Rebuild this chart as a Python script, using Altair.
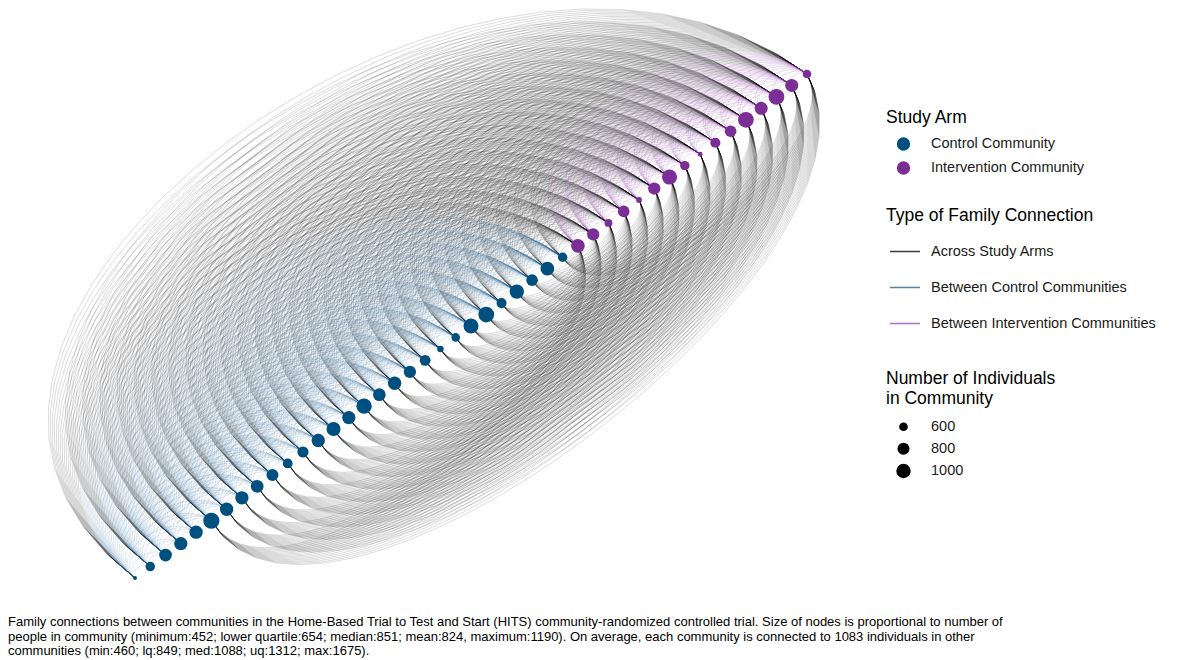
import altair as alt
import pandas as pd

# ---- data ----
control_sizes = [452, 637, 850, 902, 902, 1190, 902, 902, 850, 793, 654, 740, 902, 968, 902,
                 1101, 850, 902, 817, 719, 514, 598, 1068, 1144, 673, 997, 770, 939, 637]
intervention_sizes = [939, 817, 564, 770, 493, 817, 1068, 637, 470, 673, 770, 1144, 876, 1144, 876, 598]

arm_labels = ["Control Community", "Intervention Community"]
arm_colors = ["#00507F", "#7B2F96"]
edge_types = ["Across Study Arms", "Between Control Communities", "Between Intervention Communities"]
edge_colors = ["#000000", "#1B5E8E", "#8E44A8"]
size_legend_values = [600, 800, 1000]
# control communities whose across-arm arcs are also drawn on the lower-right side start here
first_lower_control = 5

caption = [
    "Family connections between communities in the Home-Based Trial to Test and Start (HITS) community-randomized controlled trial. Size of nodes is proportional to number of",
    "people in community (minimum:452; lower quartile:654; median:851; mean:824, maximum:1190). On average, each community is connected to 1083 individuals in other",
    "communities (min:460; lq:849; med:1088; uq:1312; max:1675).",
]

# arc bulge (fraction of the span) for the two sides of the node line
UPPER_BEND = (-0.485, 0.485)
LOWER_BEND = (0.179, -0.414)

# ---- tables ----
n_c = len(control_sizes)
n_i = len(intervention_sizes)
nodes = pd.DataFrame({
    "x": list(range(n_c + n_i)),
    "y": list(range(n_c + n_i)),
    "arm": [arm_labels[0]] * n_c + [arm_labels[1]] * n_i,
    "size": control_sizes + intervention_sizes,
})

rows = []
eid = 0


def add(i, j, etype, bend):
    global eid
    rows.append(dict(eid=eid, src=i, tgt=j, type=etype, hx=bend[0], hy=bend[1]))
    eid += 1


for i in range(n_c):
    for j in range(n_c, n_c + n_i):
        add(i, j, edge_types[0], UPPER_BEND)
for i in range(first_lower_control, n_c):
    for j in range(n_c, n_c + n_i):
        add(i, j, edge_types[0], LOWER_BEND)
for i in range(n_c):
    for j in range(i + 1, n_c):
        add(i, j, edge_types[1], UPPER_BEND)
for i in range(n_c, n_c + n_i):
    for j in range(i + 1, n_c + n_i):
        add(i, j, edge_types[2], UPPER_BEND)
edges = pd.DataFrame(rows)

FONT = "Liberation Sans"
X = alt.X("x:Q", scale=alt.Scale(domain=[-8.315, 47.34], nice=False, zero=False), axis=None)
Y = alt.Y("y:Q", scale=alt.Scale(domain=[-2.62, 49.76], nice=False, zero=False), axis=None)

stroke_enc = alt.Stroke(
    "type:N",
    scale=alt.Scale(domain=edge_types, range=edge_colors),
    legend=alt.Legend(
        title="Type of Family Connection", orient="none", legendX=878, legendY=199,
        direction="vertical", symbolType="stroke", symbolSize=900, symbolStrokeWidth=1.5,
        symbolOpacity=0.75, symbolOffset=3, labelOffset=10, rowPadding=13, titlePadding=11,
        labelLimit=400, titleLimit=400,
    ),
)


def edge_layer(etype, opacity, width):
    return (
        alt.Chart(edges)
        .transform_filter(alt.datum.type == etype)
        .transform_calculate(s="sequence(0, 31)")
        .transform_flatten(["s"])
        .transform_calculate(t="datum.s / 30")
        .transform_calculate(D="datum.tgt - datum.src")
        .transform_calculate(w="3*datum.t*datum.t - 2*datum.t*datum.t*datum.t")
        .transform_calculate(g="3*datum.t*(1-datum.t)*datum.D")
        .transform_calculate(x="datum.src + datum.D*datum.w + datum.hx*datum.g")
        .transform_calculate(y="datum.src + datum.D*datum.w + datum.hy*datum.g")
        .mark_line(opacity=opacity, strokeWidth=width, clip=True)
        .encode(x=X, y=Y, detail="eid:N", order="t:Q", stroke=stroke_enc)
    )


across = edge_layer(edge_types[0], 0.16, 0.9)
within_c = edge_layer(edge_types[1], 0.16, 0.9)
within_i = edge_layer(edge_types[2], 0.22, 0.9)

node_layer = alt.Chart(nodes).mark_circle(opacity=1).encode(
    x=X,
    y=Y,
    fill=alt.Fill(
        "arm:N",
        scale=alt.Scale(domain=arm_labels, range=arm_colors),
        legend=alt.Legend(
            title="Study Arm", orient="none", legendX=878, legendY=101, direction="vertical",
            symbolType="circle", symbolSize=177, symbolOpacity=1, symbolOffset=10,
            labelOffset=20, rowPadding=8, titlePadding=10, labelLimit=400,
        ),
    ),
    size=alt.Size(
        "size:Q",
        scale=alt.Scale(type="sqrt", domain=[452, 1190], range=[16, 260], zero=False),
        legend=alt.Legend(
            title=["Number of Individuals", "in Community"], orient="none", legendX=878,
            legendY=362, direction="vertical", values=size_legend_values, format="d",
            symbolFillColor="black", symbolStrokeColor="black", symbolStrokeWidth=0,
            symbolOpacity=1, symbolOffset=10, labelOffset=20, rowPadding=7, titlePadding=12,
            titleLineHeight=20, labelLimit=400,
        ),
    ),
    order=alt.Order("x:Q"),
)

chart = (
    alt.layer(across, within_c, within_i, node_layer)
    .properties(
        width=850,
        height=600,
        padding=0,
        title=alt.TitleParams(
            caption, orient="bottom", anchor="start", font=FONT, fontSize=13,
            fontWeight="normal", color="black", lineHeight=14.5, offset=8,
        ),
    )
    .configure_view(stroke=None)
    .configure_legend(
        titleFont=FONT, titleFontSize=17.5, titleFontWeight="normal", titleColor="black",
        labelFont=FONT, labelFontSize=14.5, labelColor="#1a1a1a",
    )
)

chart.save("out.html", embed_options={"renderer": "svg", "actions": False})
